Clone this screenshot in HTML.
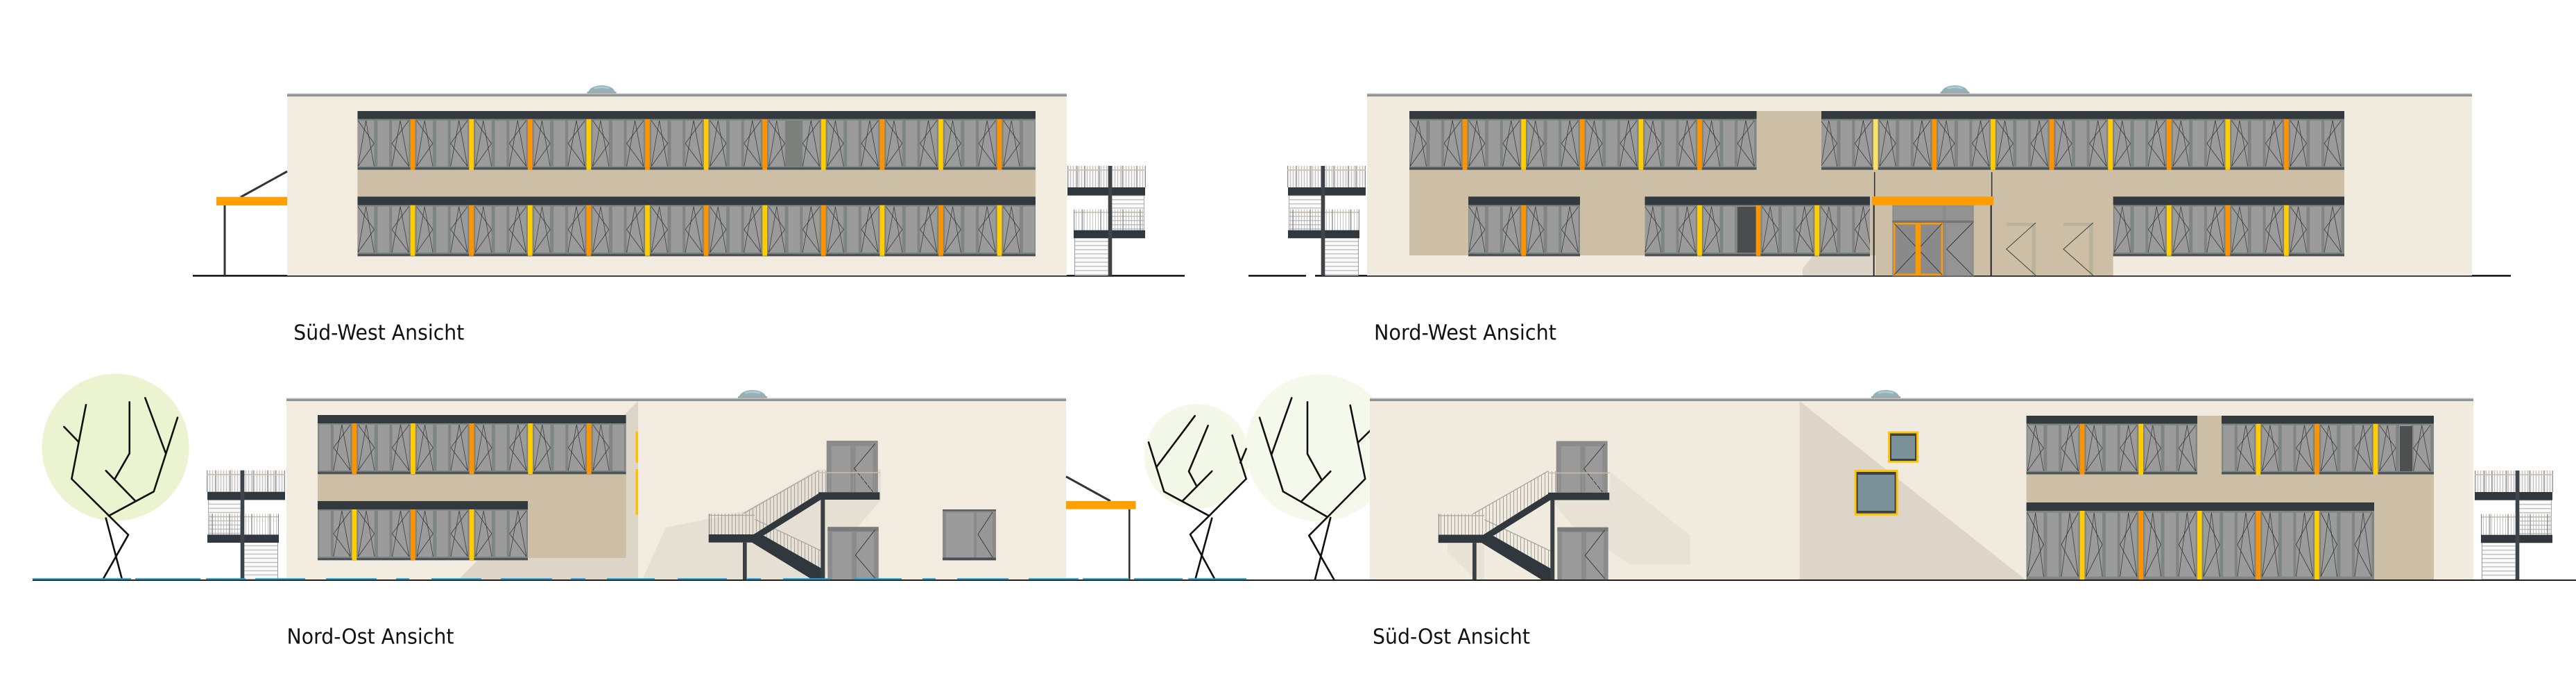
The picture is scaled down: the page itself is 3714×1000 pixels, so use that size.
<!DOCTYPE html>
<html><head><meta charset="utf-8"><title>Ansichten</title>
<style>html,body{margin:0;padding:0;background:#fff}svg{display:block}</style></head>
<body>
<svg xmlns="http://www.w3.org/2000/svg" xmlns:xlink="http://www.w3.org/1999/xlink" width="3714" height="1000" viewBox="0 0 3714 1000">
<defs>
  <g id="bay71">
    <rect width="84.6" height="71" fill="#7f8581"/>
    <rect x="9" y="2" width="23.3" height="66" fill="#9b9b9b"/>
    <rect x="37.3" y="2" width="16.7" height="66" fill="#9b9b9b"/>
    <rect x="58" y="2" width="24.3" height="66" fill="#9b9b9b"/>
    <g fill="none" stroke="#2e2e2e" stroke-width="0.7">
      <polyline points="9,68 20.5,2 32.3,68"/>
      <polyline points="9,2 32.3,35 9,68"/>
      <polyline points="58,68 70,2 82.3,68"/>
      <polyline points="82.3,2 58,35 82.3,68"/>
    </g>
  </g>
  <pattern id="pSWu" patternUnits="userSpaceOnUse" x="591.7" y="171.7" width="84.6" height="71"><use href="#bay71"/></pattern>
  <pattern id="pSWl" patternUnits="userSpaceOnUse" x="591.7" y="295.7" width="84.6" height="71"><use href="#bay71"/></pattern>
  <pattern id="pNWu" patternUnits="userSpaceOnUse" x="2108.7" y="171.7" width="84.6" height="71"><use href="#bay71"/></pattern>
  <pattern id="pNWl" patternUnits="userSpaceOnUse" x="2108.7" y="295.7" width="84.6" height="71"><use href="#bay71"/></pattern>
  <pattern id="pNOu" patternUnits="userSpaceOnUse" x="507.5" y="610" width="84.6" height="71"><use href="#bay71"/></pattern>
  <pattern id="pNOl" patternUnits="userSpaceOnUse" x="507.5" y="734" width="84.6" height="71"><use href="#bay71"/></pattern>
  <pattern id="pSEu" patternUnits="userSpaceOnUse" x="2998.7" y="610.7" width="84.6" height="71"><use href="#bay71"/></pattern>
  <pattern id="pSEl" patternUnits="userSpaceOnUse" x="2998.7" y="736" width="84.6" height="99"><use href="#bay71" transform="scale(1,1.3944)"/></pattern>

  <pattern id="bal" patternUnits="userSpaceOnUse" width="4" height="10"><rect x="0" y="0" width="0.8" height="10" fill="#b3b3b3"/></pattern>
  <pattern id="bal2" patternUnits="userSpaceOnUse" width="5" height="10"><rect x="0" y="0" width="0.9" height="10" fill="#9a9a9a"/></pattern>
  <pattern id="tread" patternUnits="userSpaceOnUse" width="10" height="6"><rect x="0" y="0" width="10" height="1.5" fill="#c2c2c2"/></pattern>

  <g id="dome">
    <path d="M-21,0 L-19,-3 Q-15,-11 0,-11.5 Q15,-11 19,-3 L21,0 Z" fill="#92b2ba"/>
    <path d="M-12,-8 Q0,-12 12,-8 L10,-6 Q0,-9 -10,-6 Z" fill="#b3cbd0"/>
    <rect x="-21" y="-2.5" width="42" height="2.5" fill="#a3a7a6"/>
  </g>

  <g id="sstair">
    <rect x="0" y="0" width="113" height="31" fill="#f3f3f3"/>
    <rect x="0" y="0" width="113" height="31" fill="url(#bal)"/>
    <g stroke="#8a8a8a" stroke-width="1.2">
      <line x1="0.6" y1="0" x2="0.6" y2="31"/><line x1="14" y1="0" x2="14" y2="31"/>
      <line x1="25" y1="0" x2="25" y2="31"/><line x1="46" y1="0" x2="46" y2="31"/>
      <line x1="79" y1="0" x2="79" y2="31"/><line x1="100" y1="0" x2="100" y2="31"/>
      <line x1="112.4" y1="0" x2="112.4" y2="31"/>
    </g>
    <line x1="0" y1="6" x2="113" y2="6" stroke="#c9bda6" stroke-width="1.5"/>
    <rect x="64" y="42.7" width="47" height="50" fill="#fafafa"/>
    <rect x="64" y="42.7" width="47" height="50" fill="url(#tread)"/>
    <line x1="110.5" y1="42.7" x2="110.5" y2="92.7" stroke="#aaa" stroke-width="1"/>
    <rect x="9" y="62.7" width="102" height="30" fill="url(#bal)"/>
    <line x1="9" y1="67" x2="111" y2="67" stroke="#c9bda6" stroke-width="1.4"/>
    <g stroke="#8a8a8a" stroke-width="1.2">
      <line x1="9.6" y1="62.7" x2="9.6" y2="92.7"/><line x1="22" y1="62.7" x2="22" y2="92.7"/>
      <line x1="48" y1="62.7" x2="48" y2="92.7"/><line x1="80" y1="62.7" x2="80" y2="92.7"/>
      <line x1="105" y1="62.7" x2="105" y2="92.7"/>
    </g>
    <rect x="10" y="104.3" width="48.7" height="53.7" fill="#fafafa"/>
    <rect x="10" y="104.3" width="48.7" height="53.7" fill="url(#tread)"/>
    <line x1="10.5" y1="104.3" x2="10.5" y2="158" stroke="#999" stroke-width="1"/>
    <rect x="0" y="31" width="112" height="11.7" fill="#30383d"/>
    <rect x="9" y="92.7" width="103" height="11.6" fill="#30383d"/>
    <rect x="58.7" y="0" width="5.6" height="158" fill="#3f4448"/>
  </g>

  <g id="fstair">
    <rect x="1191.7" y="635" width="74" height="74.3" fill="#8b8b8b"/>
    <rect x="1198.7" y="642.5" width="27.5" height="66.8" fill="#9a9a9a"/>
    <rect x="1233.5" y="642.5" width="25" height="66.8" fill="#9a9a9a"/>
    <polyline points="1261.7,639.3 1231.7,675 1258.3,708.3" fill="none" stroke="#333" stroke-width="0.9"/>
    <rect x="1193.3" y="759.3" width="73.4" height="75.7" fill="#8b8b8b"/>
    <rect x="1193.3" y="759.3" width="73.4" height="6" fill="#7a7a7a"/>
    <rect x="1200" y="766.5" width="28" height="68.5" fill="#9a9a9a"/>
    <rect x="1235" y="766.5" width="25" height="68.5" fill="#9a9a9a"/>
    <polyline points="1261.7,763.3 1233.3,800 1261.7,833.3" fill="none" stroke="#333" stroke-width="0.9"/>
    <rect x="1180" y="678.3" width="89" height="31" fill="url(#bal2)"/>
    <line x1="1180" y1="681" x2="1269" y2="681" stroke="#c9bda6" stroke-width="1.5"/>
    <polygon points="1180,678.3 1183,709.3 1085,770 1071.7,770 1071.7,740" fill="url(#bal2)"/>
    <line x1="1180" y1="678.3" x2="1071.7" y2="740" stroke="#a5a5a5" stroke-width="1.3"/>
    <polygon points="1088.3,748.3 1183.3,793.3 1185,821 1096.7,772" fill="url(#bal2)"/>
    <line x1="1088.3" y1="748.3" x2="1183.3" y2="793.3" stroke="#a5a5a5" stroke-width="1.3"/>
    <rect x="1021.7" y="740" width="51" height="30" fill="url(#bal2)"/>
    <line x1="1021.7" y1="742.5" x2="1088" y2="742.5" stroke="#a5a5a5" stroke-width="1.3"/>
    <line x1="1022.5" y1="740" x2="1022.5" y2="770" stroke="#888" stroke-width="1.3"/>
    <polygon points="1183,709.3 1183,720.3 1102,771 1085,771" fill="#30383d"/>
    <polygon points="1088,770 1100,771 1186,820 1186,835 1171,835 1083,781" fill="#30383d"/>
    <rect x="1021.7" y="770" width="70" height="11.7" fill="#30383d"/>
    <rect x="1180" y="709.3" width="88.3" height="10.7" fill="#30383d"/>
    <rect x="1071" y="781.7" width="5.7" height="53.3" fill="#3a3f43"/>
    <rect x="1183.3" y="720" width="6" height="115" fill="#3a3f43"/>
  </g>
</defs>

<rect x="0" y="0" width="3714" height="1000" fill="#ffffff"/>

<!-- ===================== SÜD-WEST ===================== -->
<rect x="278" y="396" width="1430" height="2.7" fill="#1e1e1e"/>
<rect x="414" y="139" width="1124" height="258" fill="#f2ece0"/>
<rect x="414" y="134.5" width="1124" height="1.5" fill="#bcbfbf"/>
<rect x="414" y="136" width="1124" height="3" fill="#8d9292"/>
<use href="#dome" transform="translate(867.5,134.5)"/>
<rect x="515.5" y="245" width="977.5" height="38.3" fill="#cdbfa5"/>
<rect x="515.5" y="160" width="977.5" height="11.7" fill="#323a40"/>
<rect x="515.5" y="171.7" width="977.5" height="71" fill="url(#pSWu)"/>
<rect x="1133" y="174" width="23" height="66" fill="#7b807d"/>
<rect x="515.5" y="241.2" width="977.5" height="3.5" fill="#4d5459"/>
<g>
<rect x="591.7" y="171.7" width="6.7" height="73" fill="#fb9400"/>
<rect x="676.3" y="171.7" width="6.7" height="73" fill="#ffcc00"/>
<rect x="760.9" y="171.7" width="6.7" height="73" fill="#fb9400"/>
<rect x="845.5" y="171.7" width="6.7" height="73" fill="#ffcc00"/>
<rect x="930.1" y="171.7" width="6.7" height="73" fill="#fb9400"/>
<rect x="1014.7" y="171.7" width="6.7" height="73" fill="#ffcc00"/>
<rect x="1099.3" y="171.7" width="6.7" height="73" fill="#fb9400"/>
<rect x="1183.9" y="171.7" width="6.7" height="73" fill="#ffcc00"/>
<rect x="1268.5" y="171.7" width="6.7" height="73" fill="#fb9400"/>
<rect x="1353.1" y="171.7" width="6.7" height="73" fill="#ffcc00"/>
<rect x="1437.7" y="171.7" width="6.7" height="73" fill="#fb9400"/>
</g>
<rect x="515.5" y="283.3" width="977.5" height="12.4" fill="#323a40"/>
<rect x="515.5" y="295.7" width="977.5" height="71" fill="url(#pSWl)"/>
<rect x="515.5" y="365.7" width="977.5" height="3.6" fill="#4d5459"/>
<g>
<rect x="591.7" y="295.7" width="6.7" height="73" fill="#ffcc00"/>
<rect x="676.3" y="295.7" width="6.7" height="73" fill="#fb9400"/>
<rect x="760.9" y="295.7" width="6.7" height="73" fill="#ffcc00"/>
<rect x="845.5" y="295.7" width="6.7" height="73" fill="#fb9400"/>
<rect x="930.1" y="295.7" width="6.7" height="73" fill="#ffcc00"/>
<rect x="1014.7" y="295.7" width="6.7" height="73" fill="#fb9400"/>
<rect x="1099.3" y="295.7" width="6.7" height="73" fill="#ffcc00"/>
<rect x="1183.9" y="295.7" width="6.7" height="73" fill="#fb9400"/>
<rect x="1268.5" y="295.7" width="6.7" height="73" fill="#ffcc00"/>
<rect x="1353.1" y="295.7" width="6.7" height="73" fill="#fb9400"/>
<rect x="1437.7" y="295.7" width="6.7" height="73" fill="#ffcc00"/>
</g>
<line x1="347" y1="284" x2="414" y2="247" stroke="#333" stroke-width="3"/>
<rect x="322.5" y="296" width="3" height="101" fill="#333"/>
<rect x="312" y="283.7" width="102" height="12.3" fill="#ff9f00"/>
<use href="#sstair" transform="translate(1539,239)"/>
<text x="423.3" y="489.3" font-family="'DejaVu Sans','Liberation Sans',sans-serif" font-size="30" fill="#111" textLength="246" lengthAdjust="spacingAndGlyphs">Süd-West Ansicht</text>

<!-- ===================== NORD-WEST ===================== -->
<rect x="1800" y="396" width="83" height="2.7" fill="#1e1e1e"/>
<rect x="1896" y="396" width="1724" height="2.7" fill="#1e1e1e"/>
<rect x="1971" y="139" width="1593" height="258" fill="#f1ebdf"/>
<rect x="1971" y="134.5" width="1593" height="1.5" fill="#bcbfbf"/>
<rect x="1971" y="136" width="1593" height="3" fill="#8d9292"/>
<use href="#dome" transform="translate(2818.5,134.5)"/>
<rect x="2032" y="160" width="1348" height="208" fill="#cdbfa5"/>
<rect x="2704" y="368" width="342.7" height="29" fill="#cdbfa5"/>
<polygon points="2614,368 2599,387 2599,397 2702,397 2702,368" fill="#dcd4c6"/>
<rect x="2032" y="160" width="500.6" height="11.7" fill="#323a40"/>
<rect x="2032" y="171.7" width="500.6" height="71" fill="url(#pNWu)"/>
<rect x="2032" y="241.2" width="500.6" height="3.5" fill="#4d5459"/>
<rect x="2108.7" y="171.7" width="6.7" height="73" fill="#fb9400"/>
<rect x="2193.3" y="171.7" width="6.7" height="73" fill="#ffcc00"/>
<rect x="2277.9" y="171.7" width="6.7" height="73" fill="#fb9400"/>
<rect x="2362.5" y="171.7" width="6.7" height="73" fill="#ffcc00"/>
<rect x="2447.1" y="171.7" width="6.7" height="73" fill="#fb9400"/>
<rect x="2626" y="160" width="754" height="11.7" fill="#323a40"/>
<rect x="2626" y="171.7" width="754" height="71" fill="url(#pNWu)"/>
<rect x="2626" y="241.2" width="754" height="3.5" fill="#4d5459"/>
<rect x="2700.9" y="171.7" width="6.7" height="73" fill="#ffe066"/>
<rect x="2785.5" y="171.7" width="6.7" height="73" fill="#fb9400"/>
<rect x="2870.1" y="171.7" width="6.7" height="73" fill="#ffcc00"/>
<rect x="2954.7" y="171.7" width="6.7" height="73" fill="#fb9400"/>
<rect x="3039.3" y="171.7" width="6.7" height="73" fill="#ffcc00"/>
<rect x="3123.9" y="171.7" width="6.7" height="73" fill="#fb9400"/>
<rect x="3208.5" y="171.7" width="6.7" height="73" fill="#ffcc00"/>
<rect x="3293.1" y="171.7" width="6.7" height="73" fill="#fb9400"/>
<rect x="2117" y="283.3" width="161" height="12.4" fill="#323a40"/>
<rect x="2117" y="295.7" width="161" height="71" fill="url(#pNWl)"/>
<rect x="2117" y="365.7" width="161" height="3.6" fill="#4d5459"/>
<rect x="2193.3" y="295.7" width="6.7" height="73" fill="#fb9400"/>
<rect x="2371.5" y="283.3" width="324.5" height="12.4" fill="#323a40"/>
<rect x="2371.5" y="295.7" width="324.5" height="71" fill="url(#pNWl)"/>
<rect x="2505" y="298" width="26.7" height="66" fill="#4a4c4d"/>
<rect x="2371.5" y="365.7" width="324.5" height="3.6" fill="#4d5459"/>
<rect x="2447.1" y="295.7" width="6.7" height="73" fill="#ffcc00"/>
<rect x="2531.7" y="295.7" width="6.7" height="73" fill="#fb9400"/>
<rect x="2616.3" y="295.7" width="6.7" height="73" fill="#ffcc00"/>
<rect x="3046.7" y="283.3" width="333.3" height="12.4" fill="#323a40"/>
<rect x="3046.7" y="295.7" width="333.3" height="71" fill="url(#pNWl)"/>
<rect x="3046.7" y="365.7" width="333.3" height="3.6" fill="#4d5459"/>
<rect x="3123.9" y="295.7" width="6.7" height="73" fill="#ffcc00"/>
<rect x="3208.5" y="295.7" width="6.7" height="73" fill="#fb9400"/>
<rect x="3293.1" y="295.7" width="6.7" height="73" fill="#ffcc00"/>
<line x1="2702.7" y1="248" x2="2702.7" y2="283" stroke="#333" stroke-width="1.6"/>
<line x1="2871.7" y1="248" x2="2871.7" y2="283" stroke="#333" stroke-width="1.6"/>
<rect x="2728.3" y="295.7" width="117.4" height="102" fill="#8c8c8c"/>
<rect x="2730" y="297" width="71" height="20.7" fill="#939393"/>
<rect x="2806" y="297" width="38" height="20.7" fill="#939393"/>
<rect x="2728.3" y="317.7" width="117.4" height="3.3" fill="#747474"/>
<rect x="2806" y="321" width="38" height="75.7" fill="#949494"/>
<polyline points="2844,321 2806.7,359 2844,396.7" fill="none" stroke="#333" stroke-width="0.9"/>
<rect x="2731.2" y="322.2" width="68.6" height="73.3" fill="#8a8a8a" stroke="#ff9900" stroke-width="2.5"/>
<line x1="2731" y1="322" x2="2800" y2="396" stroke="#333" stroke-width="0.9"/>
<line x1="2800" y1="322" x2="2731" y2="396" stroke="#333" stroke-width="0.9"/>
<rect x="2761.7" y="321" width="7.6" height="76" fill="#ff9900"/>
<rect x="2699" y="283.3" width="175.3" height="12.4" fill="#ff9d00"/>
<rect x="2700.7" y="295.7" width="2" height="102" fill="#222"/>
<rect x="2869.7" y="295.7" width="2" height="102" fill="#222"/>
<rect x="2892.7" y="321" width="42.3" height="4.7" fill="#b9b29c"/>
<rect x="2929.3" y="321" width="5.7" height="75.7" fill="#b9b29c"/>
<polyline points="2935,321 2892.7,359 2935,396.7" fill="none" stroke="#333" stroke-width="0.9"/>
<rect x="2975" y="321" width="42.7" height="4.7" fill="#b9b29c"/>
<rect x="3012" y="321" width="5.7" height="75.7" fill="#b9b29c"/>
<polyline points="3017.7,321 2975,359 3017.7,396.7" fill="none" stroke="#333" stroke-width="0.9"/>
<use href="#sstair" transform="translate(1969,239) scale(-1,1)"/>
<text x="1981" y="489.3" font-family="'DejaVu Sans','Liberation Sans',sans-serif" font-size="30" fill="#111" textLength="263" lengthAdjust="spacingAndGlyphs">Nord-West Ansicht</text>

<!-- ===================== TREES ===================== -->
<circle cx="166.5" cy="644.5" r="106" fill="#ebf3d0"/>
<circle cx="1725.3" cy="657.5" r="75.5" fill="#f4f8e9"/>
<circle cx="1902" cy="645.5" r="106" fill="#f5f9ec"/>
<g fill="none" stroke="#111" stroke-width="2.6" stroke-linecap="round" stroke-linejoin="round">
  <polyline points="148.3,835 185,770.7 103.3,690 124,583.3"/>
  <polyline points="176,835 152.7,746.7"/>
  <polyline points="156.7,743.3 221.7,708.3 256,601.7"/>
  <polyline points="239,653.3 209.3,573.3"/>
  <polyline points="195,721.7 152.7,678.3"/>
  <polyline points="166,689.3 186.7,653.3 186.7,579.3"/>
  <polyline points="113.3,636.7 92.3,615"/>

  <polyline points="1723.3,835 1747.3,746.7"/>
  <polyline points="1751.7,835 1716,770 1743.3,743.3"/>
  <polyline points="1743.3,743.3 1796.7,690 1776.7,627.3"/>
  <polyline points="1788.3,666.7 1796.7,646.7"/>
  <polyline points="1743.3,743.3 1678.3,708.3 1656,637.3"/>
  <polyline points="1668.3,671.7 1722.7,599.3"/>
  <polyline points="1705,721.7 1747.3,679"/>
  <polyline points="1725,700 1714,679.3 1741.7,613.3"/>

  <polyline points="1896,835 1918.3,746"/>
  <polyline points="1923.3,835 1887.3,771.7 1914,745"/>
  <polyline points="1914,745 1968.3,690 1946.7,584"/>
  <polyline points="1958.3,637.3 1980,616"/>
  <polyline points="1914,745 1850,708.3 1816,601.7"/>
  <polyline points="1833.3,655 1862.3,573.3"/>
  <polyline points="1876,722.7 1918.3,679.3"/>
  <polyline points="1905.7,691.7 1885,654 1885,579.3"/>
</g>

<!-- ===================== NORD-OST ===================== -->
<rect x="413" y="578" width="1124" height="257" fill="#f2ece0"/>
<rect x="413" y="573.5" width="1124" height="1.5" fill="#bcbfbf"/>
<rect x="413" y="575" width="1124" height="3" fill="#8d9292"/>
<use href="#dome" transform="translate(1085,573.5)"/>
<polygon points="920,578 920,835 661,835" fill="#ddd5c8"/>
<polygon points="926,835 960,760 1020,748 1075,736 1180,676 1270,676 1270,720 1195,810 1190,835" fill="#e6dfd3"/>
<rect x="458" y="683" width="444.6" height="121" fill="#cdbfa5"/>
<rect x="916.5" y="621.7" width="3.5" height="45" fill="#ffc000"/>
<rect x="916.5" y="676" width="3.5" height="65.7" fill="#ffc000"/>
<rect x="458" y="598" width="444.6" height="12" fill="#323a40"/>
<rect x="458" y="610" width="444.6" height="71" fill="url(#pNOu)"/>
<rect x="458" y="679.7" width="444.6" height="3.6" fill="#4d5459"/>
<rect x="507.5" y="610" width="6.7" height="73" fill="#fb9400"/>
<rect x="592.1" y="610" width="6.7" height="73" fill="#ffcc00"/>
<rect x="676.7" y="610" width="6.7" height="73" fill="#fb9400"/>
<rect x="761.3" y="610" width="6.7" height="73" fill="#ffcc00"/>
<rect x="845.9" y="610" width="6.7" height="73" fill="#fb9400"/>
<rect x="458" y="722" width="303" height="12" fill="#323a40"/>
<rect x="458" y="734" width="303" height="71" fill="url(#pNOl)"/>
<rect x="458" y="804" width="303" height="3.3" fill="#4d5459"/>
<rect x="507.5" y="734" width="6.7" height="73" fill="#ffcc00"/>
<rect x="592.1" y="734" width="6.7" height="73" fill="#fb9400"/>
<rect x="676.7" y="734" width="6.7" height="73" fill="#ffcc00"/>
<rect x="1359" y="734" width="77" height="73.3" fill="#8a8a8a"/>
<rect x="1359" y="734" width="77" height="2.5" fill="#5a5f63"/>
<rect x="1364" y="738.5" width="40" height="64.5" fill="#9b9b9b"/>
<rect x="1408" y="738.5" width="23" height="64.5" fill="#979797"/>
<polyline points="1431,738 1410,770 1431,803" fill="none" stroke="#333" stroke-width="0.9"/>
<rect x="1359" y="803.5" width="77" height="3.8" fill="#4a4f53"/>
<use href="#fstair"/>
<line x1="1537" y1="686.7" x2="1601" y2="722" stroke="#333" stroke-width="3"/>
<rect x="1627" y="733.7" width="2.6" height="101.3" fill="#333"/>
<rect x="1537" y="722" width="100.6" height="11.7" fill="#ff9f00"/>
<use href="#sstair" transform="translate(411,677.7) scale(-1,1)"/>
<text x="413.5" y="927.3" font-family="'DejaVu Sans','Liberation Sans',sans-serif" font-size="30" fill="#111" textLength="241" lengthAdjust="spacingAndGlyphs">Nord-Ost Ansicht</text>

<!-- ===================== SÜD-OST ===================== -->
<rect x="1975" y="578" width="1591" height="257" fill="#f1ebdf"/>
<rect x="1975" y="573.5" width="1591" height="1.5" fill="#bcbfbf"/>
<rect x="1975" y="575" width="1591" height="3" fill="#8d9292"/>
<use href="#dome" transform="translate(2719,573.5)"/>
<polygon points="2594.6,578 2920,835 2594.6,835" fill="#ddd5c8"/>
<polygon points="2321.7,680 2436.7,771.7 2436.7,813.3 2350,813.3 2266.7,756.7 2241.7,726.7 2241.7,720 2321,720" fill="#e8e1d5"/>
<polygon points="2087,783 2140,783 2140,835 2128,835 2087,796" fill="#e8e1d5"/>
<rect x="2722" y="621.7" width="44" height="45" fill="#ffc400"/>
<rect x="2725" y="624.5" width="38" height="39.5" fill="#3a4246"/>
<rect x="2727" y="628" width="34" height="33" fill="#7b9199"/>
<rect x="2673.6" y="677" width="63" height="65.7" fill="#ffc400"/>
<rect x="2676.6" y="680" width="57" height="59.7" fill="#3a4246"/>
<rect x="2678.6" y="684" width="53" height="52" fill="#7b9199"/>
<rect x="2921.6" y="599" width="587.4" height="236" fill="#cdbfa5"/>
<rect x="2921.6" y="599" width="246.4" height="11.7" fill="#323a40"/>
<rect x="2921.6" y="610.7" width="246.4" height="71" fill="url(#pSEu)"/>
<rect x="2921.6" y="680.2" width="246.4" height="3.3" fill="#4d5459"/>
<rect x="2998.7" y="610.7" width="6.7" height="73" fill="#fb9400"/>
<rect x="3083.3" y="610.7" width="6.7" height="73" fill="#ffcc00"/>
<rect x="3203" y="599" width="306" height="11.7" fill="#323a40"/>
<rect x="3203" y="610.7" width="306" height="71" fill="url(#pSEu)"/>
<rect x="3460" y="614" width="18" height="65" fill="#4d4f50"/>
<rect x="3203" y="680.2" width="306" height="3.3" fill="#4d5459"/>
<rect x="3252.5" y="610.7" width="6.7" height="73" fill="#ffcc00"/>
<rect x="3337.1" y="610.7" width="6.7" height="73" fill="#fb9400"/>
<rect x="3421.7" y="610.7" width="6.7" height="73" fill="#ffcc00"/>
<rect x="2921.6" y="724" width="501.4" height="12" fill="#323a40"/>
<rect x="2921.6" y="736" width="501.4" height="99" fill="url(#pSEl)"/>
<rect x="2998.7" y="736" width="6.7" height="99" fill="#ffcc00"/>
<rect x="3083.3" y="736" width="6.7" height="99" fill="#fb9400"/>
<rect x="3167.9" y="736" width="6.7" height="99" fill="#ffcc00"/>
<rect x="3252.5" y="736" width="6.7" height="99" fill="#fb9400"/>
<rect x="3337.1" y="736" width="6.7" height="99" fill="#ffcc00"/>
<use href="#fstair" transform="translate(1052,0.5)"/>
<use href="#sstair" transform="translate(3568,678)"/>
<text x="1979" y="927.3" font-family="'DejaVu Sans','Liberation Sans',sans-serif" font-size="30" fill="#111" textLength="227" lengthAdjust="spacingAndGlyphs">Süd-Ost Ansicht</text>

<!-- bottom ground -->
<rect x="47" y="835" width="3667" height="2" fill="#1e1e1e"/>
<g fill="#19a2e6">
<rect x="47" y="833.2" width="142" height="2"/>
<rect x="195" y="833.2" width="94" height="2"/>
<rect x="297" y="833.2" width="57" height="2"/>
<rect x="368" y="833.2" width="72" height="2"/>
<rect x="470" y="833.2" width="73" height="2"/>
<rect x="571" y="833.2" width="19" height="2"/>
<rect x="622" y="833.2" width="72" height="2"/>
<rect x="722" y="833.2" width="74" height="2"/>
<rect x="823" y="833.2" width="21" height="2"/>
<rect x="875" y="833.2" width="69" height="2"/>
<rect x="977" y="833.2" width="71" height="2"/>
<rect x="1076" y="833.2" width="21" height="2"/>
<rect x="1129" y="833.2" width="68" height="2"/>
<rect x="1231" y="833.2" width="69" height="2"/>
<rect x="1330" y="833.2" width="19" height="2"/>
<rect x="1380" y="833.2" width="74" height="2"/>
<rect x="1483" y="833.2" width="72" height="2"/>
<rect x="1561" y="833.2" width="67" height="2"/>
<rect x="1635" y="833.2" width="70" height="2"/>
<rect x="1713" y="833.2" width="84" height="2"/>
</g>
</svg>
</body></html>
